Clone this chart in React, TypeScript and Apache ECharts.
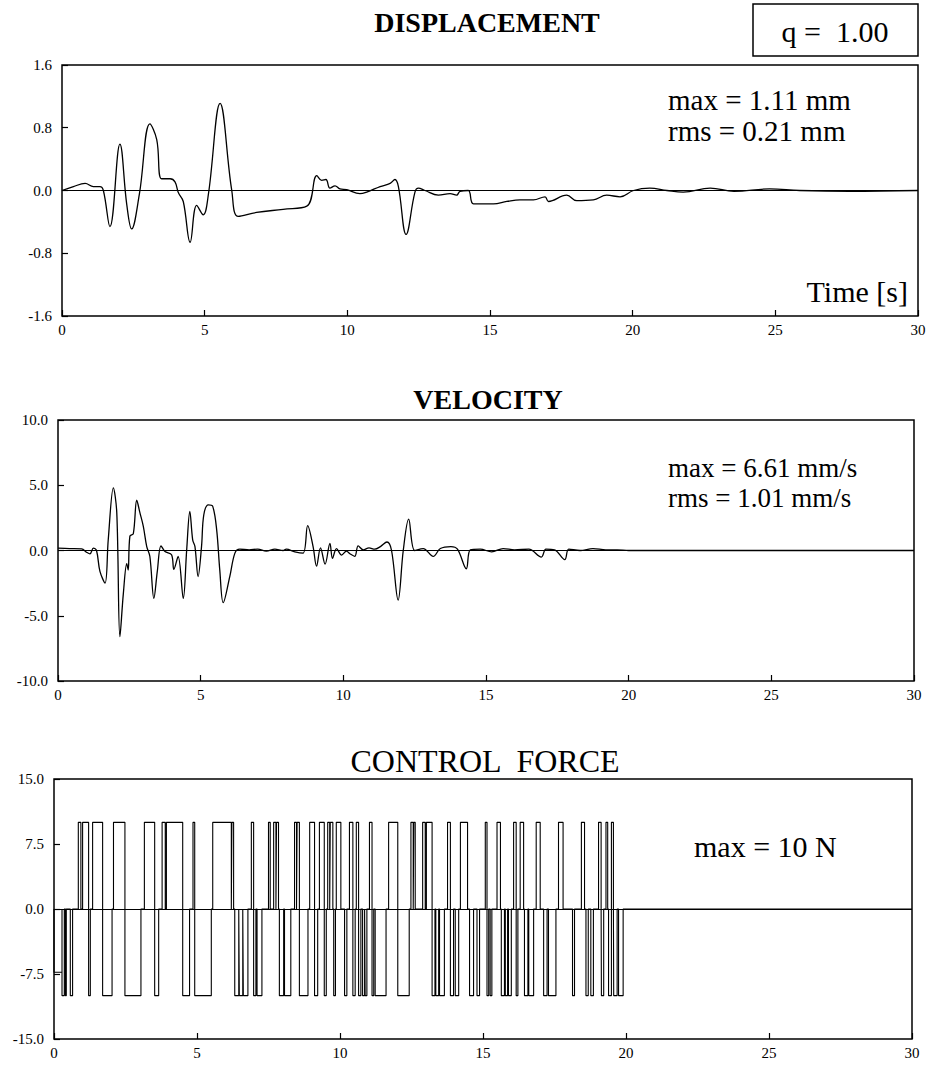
import React, { useEffect, useRef } from "react";
import * as echarts from "echarts";

// ---------- DATA ----------
const timeTicks = [0, 5, 10, 15, 20, 25, 30];

// Displacement [time s, mm]
const displacementData: number[][] = [
  [0, 0], [0.4, 0.05], [0.81, 0.09], [1.1, 0.05], [1.33, 0.05], [1.45, 0], [1.68, -0.46],
  [2.03, 0.59], [2.27, -0.18], [2.44, -0.49], [2.71, -0.05], [3.08, 0.85], [3.32, 0.65],
  [3.49, 0.15], [3.79, 0.15], [3.96, 0.11], [4.08, -0.03], [4.25, -0.14], [4.49, -0.66],
  [4.72, -0.19], [4.95, -0.31], [5.13, -0.05], [5.54, 1.11], [5.95, 0], [6.18, -0.33],
  [6.82, -0.28], [7.75, -0.24], [8.58, -0.2], [8.93, 0.19], [9.1, 0.13], [9.25, 0.14],
  [9.39, 0.03], [9.57, 0.06], [9.74, 0.02], [9.98, 0.01], [10.44, -0.04], [10.68, -0.02],
  [11.15, 0.05], [11.5, 0.09], [11.67, 0.14], [11.79, 0.05], [12.06, -0.56], [12.37, -0.02],
  [12.49, 0.03], [12.72, 0], [13.19, -0.06], [13.6, -0.04], [13.83, -0.06], [13.95, -0.01],
  [14.24, 0], [14.42, -0.17], [15.12, -0.17], [15.59, -0.14], [16.05, -0.12], [16.52, -0.12],
  [16.93, -0.08], [17.05, -0.14], [17.69, -0.06], [18.04, -0.13], [18.62, -0.12], [19.09, -0.06],
  [19.56, -0.08], [20.03, 0], [20.6, 0.03], [21.2, 0], [21.77, -0.02], [22.72, 0.03],
  [23.55, -0.01], [24.8, 0.02], [25.85, 0], [27.6, -0.01], [30, 0],
];

// Velocity [time s, mm/s]
const velocityData: number[][] = [
  [0, 0.18], [0.4, 0.15], [0.83, 0.13], [1.0, -0.13], [1.12, -0.26], [1.24, 0.18], [1.35, 0],
  [1.47, -1.6], [1.65, -2.5], [1.76, 0.8], [1.94, 4.8], [2.06, 2.9], [2.17, -6.6], [2.29, -3.3],
  [2.41, -1.0], [2.46, -1.5], [2.52, 1.1], [2.64, 1.3], [2.76, 3.85], [2.87, 2.9], [2.99, 1.85],
  [3.11, 0.3], [3.22, -0.46], [3.36, -3.67], [3.48, -1.6], [3.61, 0.36], [3.75, -0.08],
  [3.98, -0.33], [4.06, -1.44], [4.21, -0.46], [4.39, -3.67], [4.51, 0.05], [4.62, 3.0],
  [4.72, 0.82], [4.8, 0.3], [4.91, -2.0], [5.03, 0.3], [5.11, 2.74], [5.27, 3.5], [5.42, 3.4],
  [5.56, 1.6], [5.67, -1.5], [5.79, -4.0], [6.02, -2.0], [6.2, -0.2], [6.37, 0.1], [6.7, 0.05],
  [7.0, 0.1], [7.3, -0.05], [7.6, 0.1], [7.89, 0], [8.0, 0.1], [8.3, -0.1], [8.59, -0.2],
  [8.75, 1.9], [8.94, 0.3], [9.06, -1.2], [9.2, 0.2], [9.36, -1.05], [9.53, 0.55], [9.62, -0.6],
  [9.76, 0.15], [9.94, -0.35], [10.11, -0.05], [10.23, -0.25], [10.4, -0.45], [10.52, 0.35],
  [10.7, 0.05], [10.9, 0.2], [11.1, 0.1], [11.3, 0.3], [11.53, 0.65], [11.69, 0], [11.92, -3.8],
  [12.1, 0], [12.29, 2.4], [12.5, 0], [12.8, 0.15], [13.15, -0.45], [13.4, 0.15], [13.77, 0.3],
  [14.0, 0.1], [14.31, -1.4], [14.45, 0.05], [14.8, 0.1], [15.2, -0.1], [15.6, 0.15],
  [16.0, 0.05], [16.5, 0.1], [16.94, -0.5], [17.1, 0.1], [17.4, 0.05], [17.76, -0.7],
  [17.9, 0.1], [18.3, 0], [18.75, 0.15], [19.2, 0.05], [19.6, 0.05], [20.0, 0], [20.5, 0],
  [21, 0], [25, 0], [30, 0],
];

// Control force pulses: switch-on time, switch-off time, level [N]
const forceOn = [
  0, 0.28, 0.4, 0.57, 0.85, 1.0, 1.21, 1.35, 1.7, 2.08, 2.48, 3.16, 3.52, 3.78, 3.93, 4.5, 4.86,
  4.92, 5.55, 6.22, 6.32, 6.48, 6.62, 6.9, 6.98, 7.1, 7.5, 7.68, 7.78, 7.88, 8.06, 8.41, 8.5,
  8.58, 8.94, 9.11, 9.28, 9.45, 9.57, 9.66, 9.78, 9.87, 10.16, 10.33, 10.45, 10.57, 10.65,
  10.79, 10.88, 11.03, 11.12, 11.23, 11.7, 12.02, 12.48, 12.58, 12.89, 13.02, 13.22, 13.35,
  13.48, 13.76, 13.86, 14.03, 14.21, 14.53, 14.79, 15.08, 15.14, 15.25, 15.49, 15.64, 15.78,
  15.89, 16.07, 16.16, 16.3, 16.45, 16.6, 16.86, 17.12, 17.29, 17.64, 18.13, 18.44, 18.6,
  18.77, 19.04, 19.14, 19.3, 19.39, 19.49, 19.57, 19.74,
];
const forceOff = [
  0.28, 0.36, 0.43, 0.65, 0.94, 1.21, 1.27, 1.7, 2.03, 2.48, 3.04, 3.52, 3.66, 3.89, 4.5, 4.74,
  4.92, 5.5, 6.2, 6.28, 6.46, 6.6, 6.78, 6.98, 7.06, 7.27, 7.56, 7.76, 7.85, 8.03, 8.28, 8.48,
  8.58, 8.88, 9.11, 9.22, 9.45, 9.52, 9.64, 9.75, 9.84, 10.03, 10.24, 10.45, 10.53, 10.65,
  10.73, 10.86, 10.94, 11.12, 11.18, 11.61, 12.02, 12.42, 12.56, 12.63, 12.98, 13.22, 13.32,
  13.45, 13.65, 13.86, 13.97, 14.15, 14.46, 14.67, 14.88, 15.14, 15.2, 15.31, 15.61, 15.75,
  15.86, 15.99, 16.16, 16.22, 16.42, 16.57, 16.77, 17.0, 17.24, 17.55, 17.8, 18.2, 18.55,
  18.68, 18.86, 19.13, 19.22, 19.36, 19.49, 19.56, 19.69, 19.9,
];
const forceLevel = [
  -7.3, -10, -10, -10, 10, 10, -10, 10, -10, 10, -10, 10, -10, 10, 10, -10, 10,
  -10, 10, 10, -10, -10, -10, 10, -10, -10, 10, 10, 10, -10, -10, 10, 10,
  -10, 10, -10, 10, -10, 10, 10, -10, 10, -10, 10, -10, 10, -10,
  -10, -10, 10, -10, -10, 10, -10, 10, 10, 10, 10, -10, -10,
  -10, 10, -10, -10, 10, -10, -10, 10, -10, -10, 10, -10, -10,
  -10, 10, -10, 10, -10, -10, 10, -10, -10, 10, -10, 10, -10,
  -10, 10, -10, 10, -10, 10, -10, -10,
];

const dispTicks = [-1.6, -0.8, 0, 0.8, 1.6];
const velTicks = [-10, -5, 0, 5, 10];
const forceTicks = [-15, -7.5, 0, 7.5, 15];

// ---------- BUILD ----------
function buildForce(): number[][] {
  const pts: number[][] = [[0, 0]];
  let prev = 0;
  for (let i = 0; i < forceOn.length; i++) {
    const on = Math.max(forceOn[i], prev);
    const off = forceOff[i];
    const lvl = forceLevel[i];
    pts.push([on, 0], [on, lvl], [off, lvl], [off, 0]);
    prev = off;
  }
  pts.push([30, 0]);
  return pts;
}

const SERIF = '"Liberation Serif", "Times New Roman", serif';

export default function App() {
  const ref = useRef<HTMLDivElement>(null);
  useEffect(() => {
    if (!ref.current) return;
    const chart = echarts.init(ref.current, undefined, { renderer: "svg" });

    const grids = [
      { left: 62, top: 65, width: 856, height: 251 },
      { left: 58, top: 420, width: 856, height: 261 },
      { left: 54, top: 779, width: 858, height: 260 },
    ];
    const yDefs = [
      { ticks: dispTicks },
      { ticks: velTicks },
      { ticks: forceTicks },
    ];

    const xAxis = grids.map((_, i) => ({
      type: "value",
      gridIndex: i,
      position: "bottom",
      min: timeTicks[0],
      max: timeTicks[timeTicks.length - 1],
      interval: timeTicks[1] - timeTicks[0],
      axisLine: { show: false, onZero: false },
      axisTick: { show: true, inside: true, length: 6, lineStyle: { color: "#000", width: 1.2 } },
      splitLine: { show: false },
      axisLabel: {
        color: "#000",
        fontFamily: SERIF,
        fontSize: 15,
        margin: 6,
        formatter: (v: number) => String(v),
      },
    }));

    const yAxis = yDefs.map((d, i) => ({
      type: "value",
      gridIndex: i,
      position: "left",
      min: d.ticks[0],
      max: d.ticks[d.ticks.length - 1],
      interval: d.ticks[1] - d.ticks[0],
      axisLine: { show: false, onZero: false },
      axisTick: { show: true, inside: true, length: 6, lineStyle: { color: "#000", width: 1.2 } },
      splitLine: { show: false },
      axisLabel: {
        color: "#000",
        fontFamily: SERIF,
        fontSize: 15,
        margin: 10,
        formatter: (v: number) => v.toFixed(1),
      },
    }));

    const zeroLine = {
      silent: true,
      symbol: "none",
      label: { show: false },
      lineStyle: { color: "#000", width: 1, type: "solid" },
      data: [{ yAxis: 0 }],
    };

    const lineBase = {
      type: "line",
      showSymbol: false,
      symbol: "none",
      lineStyle: { color: "#000", width: 1.3 },
      itemStyle: { color: "#000" },
      markLine: zeroLine,
    };

    const text = (t: string, x: number, y: number, size: number, opts: any = {}) => ({
      type: "text",
      x,
      y,
      silent: true,
      style: {
        text: t,
        fill: "#000",
        fontFamily: SERIF,
        fontSize: size,
        fontWeight: opts.bold ? "bold" : "normal",
        textAlign: opts.align || "left",
        textVerticalAlign: "middle",
      },
    });

    chart.setOption({
      animation: false,
      backgroundColor: "#fff",
      grid: grids.map((g) => ({
        ...g,
        show: true,
        borderColor: "#000",
        borderWidth: 1.5,
        backgroundColor: "transparent",
      })),
      xAxis,
      yAxis,
      series: [
        { ...lineBase, name: "Displacement", xAxisIndex: 0, yAxisIndex: 0, smooth: 0.4, data: displacementData },
        { ...lineBase, name: "Velocity", xAxisIndex: 1, yAxisIndex: 1, smooth: 0.35, data: velocityData },
        {
          ...lineBase,
          name: "Control force",
          xAxisIndex: 2,
          yAxisIndex: 2,
          smooth: false,
          lineStyle: { color: "#000", width: 1.1 },
          data: buildForce(),
        },
      ],
      graphic: [
        text("DISPLACEMENT", 487, 22, 28, { bold: true, align: "center" }),
        text("VELOCITY", 488, 399, 28, { bold: true, align: "center" }),
        text("CONTROL  FORCE", 485, 761, 32, { align: "center" }),
        {
          type: "rect",
          shape: { x: 753, y: 4, width: 165, height: 52 },
          style: { fill: "#fff", stroke: "#000", lineWidth: 1.5 },
          silent: true,
        },
        text("q =  1.00", 835, 31, 30, { align: "center" }),
        text("max = 1.11 mm", 668, 100, 29),
        text("rms = 0.21 mm", 668, 131, 29),
        text("Time [s]", 908, 291, 30, { align: "right" }),
        text("max = 6.61 mm/s", 668, 468, 27),
        text("rms = 1.01 mm/s", 668, 498, 27),
        text("max = 10 N", 694, 846, 30),
      ],
    });
    return () => chart.dispose();
  }, []);

  return (
    <div
      ref={ref}
      style={{ position: "fixed", left: 0, top: 0, width: 931, height: 1071, background: "#fff" }}
    />
  );
}
